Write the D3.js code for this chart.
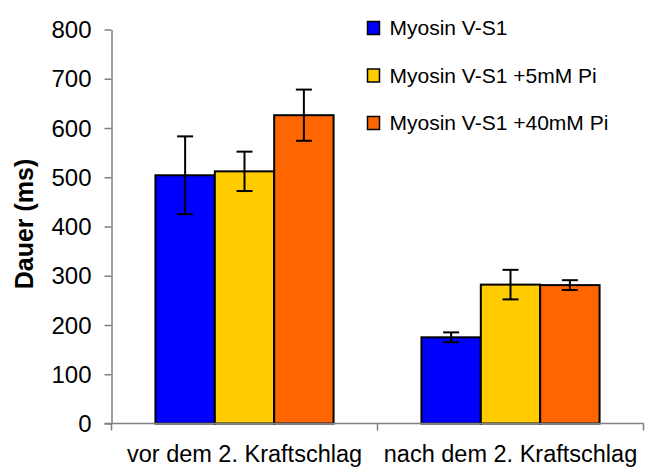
<!DOCTYPE html>
<html>
<head>
<meta charset="utf-8">
<script src="https://cdn.jsdelivr.net/npm/d3@7"></script>
<style>
  html, body { margin: 0; padding: 0; background: #fff; }
  svg { display: block; font-family: Arial, "Liberation Sans", sans-serif; }
</style>
</head>
<body>
<svg id="chart" width="648" height="468"></svg>
<script>
// Duration of the state before / after the second power stroke
const categories = ["vor dem 2. Kraftschlag", "nach dem 2. Kraftschlag"];
const seriesNames = ["Myosin V-S1", "Myosin V-S1 +5mM Pi", "Myosin V-S1 +40mM Pi"];
const seriesColors = ["#0000ff", "#ffcc00", "#ff6600"];
// values[series][category]
const values = [
  [504, 175],
  [512, 282],
  [626, 281]
];
// symmetric error (± ms)
const errors = [
  [79, 10],
  [40, 30],
  [52, 10]
];
const yTicks = [0, 100, 200, 300, 400, 500, 600, 700, 800];

const svg = d3.select("#chart");
const plot = { left: 111.5, right: 643.5, top: 29.5, bottom: 423.5 };
const FONT = "Arial, 'Liberation Sans', sans-serif";

const y = d3.scaleLinear().domain([0, 800]).range([plot.bottom, plot.top]);
const x0 = d3.scaleBand().domain(categories).range([plot.left, plot.right]).padding(0);
const x1 = d3.scaleBand().domain(seriesNames).range([0, x0.bandwidth()])
  .paddingInner(0).paddingOuter(0.74);

const rows = [];
categories.forEach((c, ci) => {
  seriesNames.forEach((s, si) => {
    rows.push({ c, s, si, v: values[si][ci], e: errors[si][ci] });
  });
});

// bars
svg.append("g").selectAll("rect").data(rows).join("rect")
  .attr("x", d => x0(d.c) + x1(d.s))
  .attr("y", d => y(d.v))
  .attr("width", x1.bandwidth())
  .attr("height", d => y(0) - y(d.v))
  .attr("fill", d => seriesColors[d.si])
  .attr("stroke", "#000")
  .attr("stroke-width", 2);

// error bars
const eg = svg.append("g").attr("stroke", "#000").attr("stroke-width", 2);
rows.forEach(d => {
  const cx = x0(d.c) + x1(d.s) + x1.bandwidth() / 2;
  eg.append("line").attr("x1", cx).attr("x2", cx).attr("y1", y(d.v + d.e)).attr("y2", y(d.v - d.e));
  eg.append("line").attr("x1", cx - 8).attr("x2", cx + 8).attr("y1", y(d.v + d.e)).attr("y2", y(d.v + d.e));
  eg.append("line").attr("x1", cx - 8).attr("x2", cx + 8).attr("y1", y(d.v - d.e)).attr("y2", y(d.v - d.e));
});

// y axis
const yAxis = svg.append("g")
  .attr("transform", `translate(${plot.left},0)`)
  .call(d3.axisLeft(y).tickValues(yTicks).tickSize(7).tickPadding(13).tickSizeOuter(0));
yAxis.select(".domain").attr("stroke", "#808080").attr("stroke-width", 1.5);
yAxis.selectAll(".tick line").attr("stroke", "#808080").attr("stroke-width", 1.5);
yAxis.selectAll(".tick text").attr("font-size", 24).attr("fill", "#000")
  .attr("font-family", FONT).attr("dy", "0.34em");

// x axis: labels centred in each band, ticks on band boundaries
const xAxis = svg.append("g")
  .attr("transform", `translate(0,${plot.bottom})`)
  .call(d3.axisBottom(x0).tickSize(0).tickPadding(0).tickSizeOuter(0));
xAxis.select(".domain").attr("stroke", "#808080").attr("stroke-width", 1.5)
  .attr("d", `M${plot.left - 7},0H${plot.right}`);
xAxis.selectAll(".tick text").attr("font-size", 23.5).attr("fill", "#000")
  .attr("font-family", FONT).attr("dy", null).attr("y", 38);
const bounds = [plot.left, ...categories.map(c => x0(c) + x0.bandwidth())];
xAxis.selectAll("line.bound").data(bounds).join("line").attr("class", "bound")
  .attr("x1", d => d).attr("x2", d => d).attr("y1", 0).attr("y2", 7)
  .attr("stroke", "#808080").attr("stroke-width", 1.5);

// y axis title
svg.append("text")
  .attr("transform", `translate(33,224) rotate(-90)`)
  .attr("text-anchor", "middle")
  .attr("font-family", FONT)
  .attr("font-size", 25).attr("font-weight", "bold")
  .text("Dauer (ms)");

// legend
const lg = svg.append("g").attr("transform", "translate(367.5,21.5)");
seriesNames.forEach((s, i) => {
  const g = lg.append("g").attr("transform", `translate(0,${i * 47.5})`);
  g.append("rect").attr("x", 0).attr("y", 0).attr("width", 12).attr("height", 13)
    .attr("fill", seriesColors[i]).attr("stroke", "#000").attr("stroke-width", 1.5);
  g.append("text").attr("x", 22).attr("y", 13.5).attr("font-size", 21)
    .attr("font-family", FONT).text(s);
});
</script>
</body>
</html>
